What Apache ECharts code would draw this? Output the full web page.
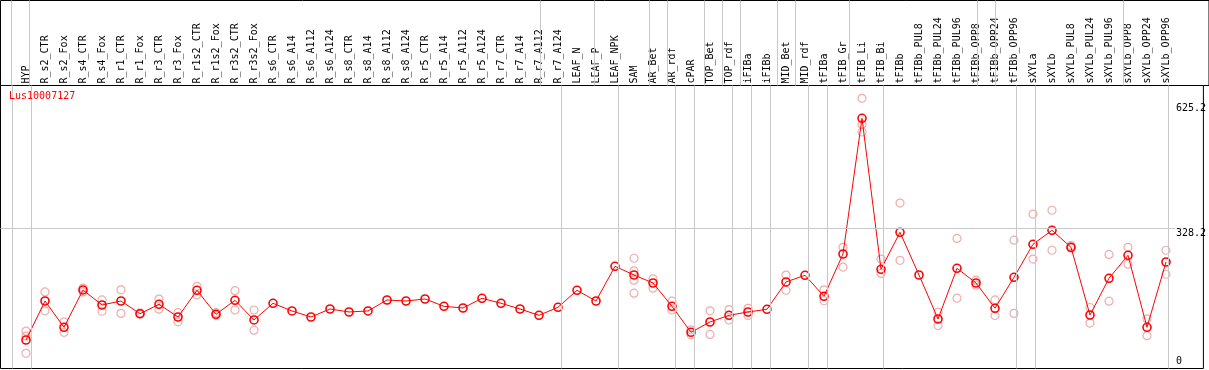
<!DOCTYPE html>
<html><head><meta charset="utf-8">
<script src="https://cdn.jsdelivr.net/npm/echarts@6/dist/echarts.min.js"></script>
<style>html,body{margin:0;padding:0;background:#fff}#c{width:1209px;height:370px}</style>
</head><body><div id="c"></div>
<script>
const seriesName = 'Lus10007127';
const categories = ['HYP','R_s2_CTR','R_s2_Fox','R_s4_CTR','R_s4_Fox','R_r1_CTR','R_r1_Fox','R_r3_CTR','R_r3_Fox','R_r1s2_CTR','R_r1s2_Fox','R_r3s2_CTR','R_r3s2_Fox','R_s6_CTR','R_s6_A14','R_s6_A112','R_s6_A124','R_s8_CTR','R_s8_A14','R_s8_A112','R_s8_A124','R_r5_CTR','R_r5_A14','R_r5_A112','R_r5_A124','R_r7_CTR','R_r7_A14','R_r7_A112','R_r7_A124','LEAF_N','LEAF_P','LEAF_NPK','SAM','AR_Bet','AR_rdf','cPAR','TOP_Bet','TOP_rdf','iFIBa','iFIBb','MID_Bet','MID_rdf','tFIBa','tFIB_Gr','tFIB_Li','tFIB_Bi','tFIBb','tFIBb_PUL8','tFIBb_PUL24','tFIBb_PUL96','tFIBb_OPP8','tFIBb_OPP24','tFIBb_OPP96','sXYLa','sXYLb','sXYLb_PUL8','sXYLb_PUL24','sXYLb_PUL96','sXYLb_OPP8','sXYLb_OPP24','sXYLb_OPP96'];
const means = [62.7,155.4,92.9,181.6,145.9,155.4,125.2,147.6,117.4,180.8,123.8,157.1,110.3,150,131.7,117.4,136.4,129.3,131.7,157.8,155.4,160.2,142.8,138.8,161.8,150,136.4,121.4,140.4,180.8,155.4,237.9,217.2,198.2,142.8,81,105.5,121.4,129.3,135.7,200.6,216.5,166.6,267.1,589.6,230.8,318.7,217.2,112.6,233.1,198.2,138.1,211.7,290.2,323.4,283,122.1,209.4,264,92.9,248.1];
const replicates = [
 [84,72,31],[177,132],[106,81],[186,177],[158,131],[182,126],[127,124],[160,136],[128,106],[190,170],[128,121],[180,134],[134,86],
 [],[],[],[],[],[],[],[],[],[],[],[],[],[],[],[],[],[],[],
 [257,227,205,174],[208,186],[155,134],[87,75],[132,76],[135,110],[138,121],[],[217,181],[],[182,156],[283,236],[637,575,557],[255,221],
 [388,252],[],[129,97],[304,162],[205,193],[158,121],[300,126],
 [362,255],[371,276],[287,281],[140,103],[266,155],[283,243],[113,73],[276,219]
];
const groupLastIndex = [-1,0,28,31,34,35,37,38,39,41,42,45,52,53,60];
const gridLineValue = 328.2;
const upperTicks = [328.2, 625.2];
const lowerTicks = [0];

// layout
const CAT_W = 19, FIRST_X = 26;
const PLOT_L = 0.5, PLOT_T = 85.5, PLOT_W = 1206, PLOT_H = 283;
const HEAD_W = 1260;
const Y_MIN = -5, Y_MAX = 667.5;
const SEP_OFF = 5 / CAT_W;
const LABEL_X = 1179;
const xMinPlot = (PLOT_L - FIRST_X) / CAT_W;
const xMaxPlot = (PLOT_L + PLOT_W - FIRST_X) / CAT_W;
const xMaxHead = (PLOT_L + HEAD_W - FIRST_X) / CAT_W;
const gridLineEndX = (LABEL_X - 1 - FIRST_X) / CAT_W;
const labelMargin = PLOT_L + PLOT_W - LABEL_X;
const FONT = 'DejaVu Sans Mono';

const repData = [];
replicates.forEach((arr, i) => arr.forEach(v => repData.push([i, v])));
const sepLines = groupLastIndex.map(k => ({ xAxis: k + SEP_OFF }));
const sepStyle = { color: '#c8c8c8', width: 1, type: 'solid' };

const chart = echarts.init(document.getElementById('c'), null, { renderer: 'canvas' });
chart.setOption({
  animation: false,
  title: { text: seriesName, left: 9, top: 91, padding: 0,
    textStyle: { color: '#ff0000', fontSize: 10, fontWeight: 'normal', fontFamily: FONT } },
  grid: [
    { left: PLOT_L, top: PLOT_T, width: PLOT_W, height: PLOT_H, show: true, borderColor: '#000', borderWidth: 1, backgroundColor: 'transparent' },
    { left: PLOT_L, top: 0.5, width: HEAD_W, height: PLOT_T - 0.5, show: true, borderColor: '#000', borderWidth: 1, backgroundColor: 'transparent' },
    { left: FIRST_X - CAT_W / 2, top: PLOT_T, width: CAT_W * categories.length, height: PLOT_H }
  ],
  xAxis: [
    { type: 'value', gridIndex: 0, min: xMinPlot, max: xMaxPlot, show: false },
    { type: 'value', gridIndex: 1, min: xMinPlot, max: xMaxHead, show: false },
    { type: 'category', gridIndex: 2, data: categories, position: 'top', boundaryGap: true,
      axisLine: { show: false }, axisTick: { show: false }, splitLine: { show: false },
      axisLabel: { interval: 0, rotate: 90, margin: 2, fontSize: 10, fontFamily: FONT, color: '#000' } }
  ],
  yAxis: [
    { type: 'value', gridIndex: 0, min: Y_MIN, max: Y_MAX, position: 'right',
      axisLine: { show: false }, axisTick: { show: false }, splitLine: { show: false },
      axisLabel: { inside: true, margin: labelMargin, align: 'left', verticalAlign: 'top', customValues: upperTicks,
        fontSize: 10, fontFamily: FONT, color: '#000', formatter: v => String(v) } },
    { type: 'value', gridIndex: 0, min: Y_MIN, max: Y_MAX, position: 'right',
      axisLine: { show: false }, axisTick: { show: false }, splitLine: { show: false },
      axisLabel: { inside: true, margin: labelMargin, align: 'left', verticalAlign: 'bottom', customValues: lowerTicks,
        fontSize: 10, fontFamily: FONT, color: '#000', formatter: v => String(v) } },
    { type: 'value', gridIndex: 1, min: 0, max: 1, show: false },
    { type: 'value', gridIndex: 2, min: Y_MIN, max: Y_MAX, show: false }
  ],
  series: [
    { type: 'line', xAxisIndex: 0, yAxisIndex: 0, data: [], silent: true, z: 1,
      markLine: { silent: true, symbol: 'none', label: { show: false }, lineStyle: sepStyle,
        data: sepLines.concat([[{ coord: [xMinPlot, gridLineValue] }, { coord: [gridLineEndX, gridLineValue] }]]) } },
    { type: 'line', xAxisIndex: 1, yAxisIndex: 2, data: [], silent: true, z: 1,
      markLine: { silent: true, symbol: 'none', label: { show: false }, lineStyle: sepStyle, data: sepLines } },
    { type: 'scatter', name: 'replicates', xAxisIndex: 2, yAxisIndex: 3, data: repData, z: 3,
      symbol: 'circle', symbolSize: 8,
      itemStyle: { color: 'rgba(0,0,0,0)', borderColor: '#e8999a', borderWidth: 1.2 } },
    { type: 'line', name: seriesName, xAxisIndex: 2, yAxisIndex: 3, data: means, z: 4,
      symbol: 'circle', symbolSize: 8, showAllSymbol: true,
      lineStyle: { color: '#ff0000', width: 1 },
      itemStyle: { color: 'rgba(0,0,0,0)', borderColor: '#ff0000', borderWidth: 1.6 } }
  ]
});
</script></body></html>
